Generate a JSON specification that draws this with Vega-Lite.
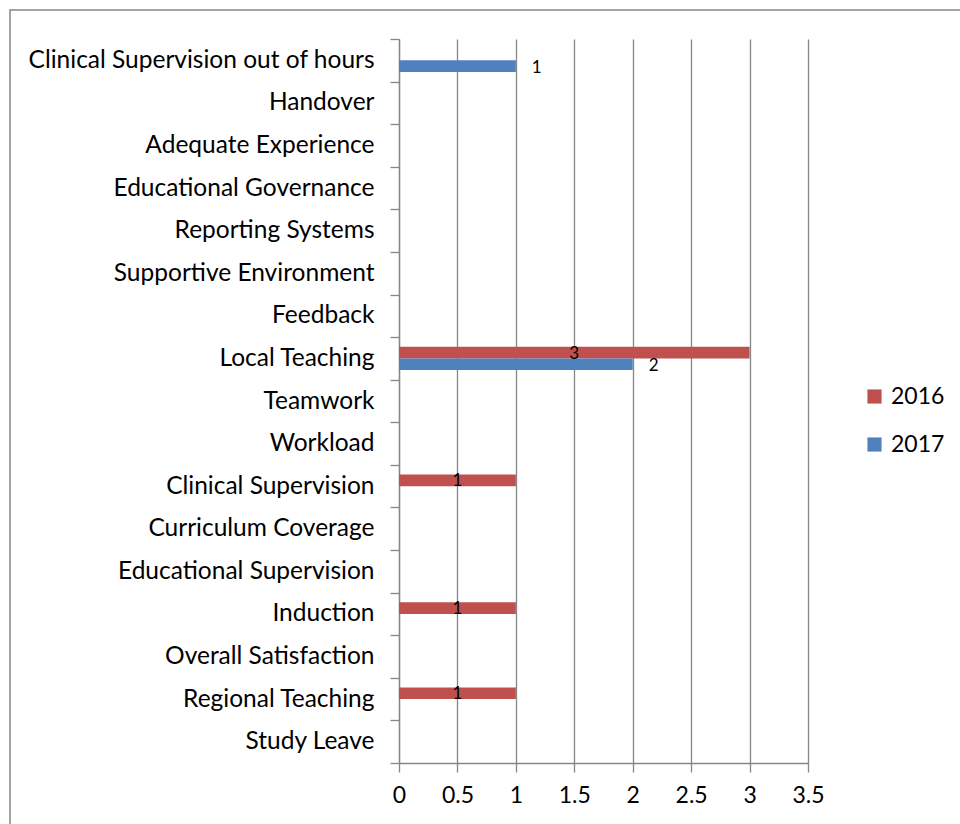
{
  "$schema": "https://vega.github.io/schema/vega-lite/v6.json",
  "autosize": {"type": "none"},
  "width": 952,
  "height": 816,
  "padding": {"left": 10, "top": 10, "right": -2, "bottom": -2},
  "background": "white",
  "config": {
    "view": {"stroke": "#868686", "strokeWidth": 1.5},
    "font": "Lato",
    "axis": {"labelFont": "Lato", "labelColor": "black", "domainColor": "#868686", "tickColor": "#868686", "gridColor": "#868686", "domainWidth": 1.3, "tickWidth": 1.3, "gridWidth": 1.3}
  },
  "data": {"values": [
    {"category": "Clinical Supervision out of hours", "year": "2017", "value": 1},
    {"category": "Local Teaching", "year": "2016", "value": 3},
    {"category": "Local Teaching", "year": "2017", "value": 2},
    {"category": "Clinical Supervision\u00a0", "year": "2016", "value": 1},
    {"category": "Induction", "year": "2016", "value": 1},
    {"category": "Regional Teaching", "year": "2016", "value": 1}
  ]},
  "encoding": {
    "y": {
      "field": "category", "type": "nominal",
      "scale": {"domain": ["Clinical Supervision out of hours", "Handover", "Adequate Experience", "Educational Governance", "Reporting Systems", "Supportive Environment", "Feedback", "Local Teaching", "Teamwork", "Workload", "Clinical Supervision\u00a0", "Curriculum Coverage", "Educational Supervision", "Induction", "Overall Satisfaction", "Regional Teaching", "Study Leave"], "paddingInner": 0, "paddingOuter": 0, "range": [29, 753]},
      "axis": {"title": null, "labelFontSize": 24.5, "tickBand": "extent", "tickSize": 9, "labelPadding": 16, "grid": false, "labelLimit": 500, "offset": -389}
    },
    "yOffset": {"field": "year", "type": "nominal", "scale": {"domain": ["2016", "2017"], "paddingInner": 0, "paddingOuter": 0.82}}
  },
  "layer": [
    {
      "mark": {"type": "bar"},
      "encoding": {
        "x": {"field": "value", "type": "quantitative", "scale": {"domain": [0, 3.5], "nice": false, "range": [389, 798]},
          "axis": {"title": null, "values": [0, 0.5, 1, 1.5, 2, 2.5, 3, 3.5], "format": "~g", "labelFontSize": 23, "tickSize": 9, "labelPadding": 12, "labelFlush": false, "labelOverlap": false, "grid": false, "offset": -63}},
        "color": {"field": "year", "type": "nominal",
          "scale": {"domain": ["2016", "2017"], "range": ["#C0504D", "#4F81BD"]},
          "legend": {"title": null, "orient": "none", "legendX": 853, "legendY": 375, "symbolType": "square", "symbolSize": 200, "symbolStrokeWidth": 0, "labelFontSize": 23, "labelFont": "Lato", "labelOffset": 5, "rowPadding": 24}}
      }
    },
    {
      "transform": [{"filter": "datum.year == '2016'"}],
      "mark": {"type": "text", "fontSize": 17, "font": "Lato", "color": "black", "align": "center", "baseline": "middle", "dy": 1},
      "encoding": {
        "x": {"field": "value", "type": "quantitative", "scale": {"domain": [0, 7], "nice": false, "range": [389, 798]}, "axis": null},
        "text": {"field": "value", "type": "quantitative"}
      }
    },
    {
      "transform": [{"filter": "datum.year == '2017'"}],
      "mark": {"type": "text", "fontSize": 17, "font": "Lato", "color": "black", "align": "left", "baseline": "middle", "dx": 16, "dy": 2},
      "encoding": {
        "x": {"field": "value", "type": "quantitative", "scale": {"domain": [0, 3.5], "nice": false, "range": [389, 798]},
          "axis": {"title": null, "orient": "bottom", "offset": -63, "values": [0, 0.5, 1, 1.5, 2, 2.5, 3, 3.5], "labels": false, "domain": false, "ticks": true, "tickSize": -724, "grid": false}},
        "text": {"field": "value", "type": "quantitative"}
      }
    }
  ],
  "resolve": {"scale": {"x": "independent"}}
}
